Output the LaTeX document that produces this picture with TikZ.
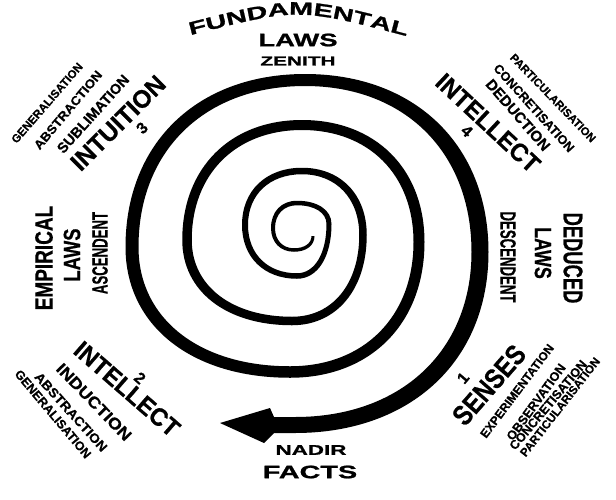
\documentclass[tikz,border=0pt]{standalone}
\usepackage{fontspec}
\setmainfont{Liberation Sans}
\newfontfamily\widefont[FakeStretch=1.6,FakeBold=1.2]{Liberation Sans}
\newfontfamily\heavyfont[FakeBold=0.6]{Liberation Sans}
\usetikzlibrary{calc,decorations.text}
\newcommand\SP[6]{\coordinate (o#1) at ({#2+(#5)*(#4)},{#3+(#6)*(#4)});\coordinate (n#1) at ({#2-(#5)*(#4)},{#3-(#6)*(#4)});}
\def\kk{0.6}
\tikzset{
 qa/.style 2 args={insert path={.. controls ($(#1)!\kk!(#1|-#2)$) and ($(#2)!\kk!(#1|-#2)$) .. (#2)}},
 qb/.style 2 args={insert path={.. controls ($(#1)!\kk!(#1-|#2)$) and ($(#2)!\kk!(#1-|#2)$) .. (#2)}},
 lab/.style={inner sep=0pt, font=\heavyfont\bfseries\fontsize{#1}{#1}\selectfont},
 wide/.style={inner sep=0pt, font=\widefont\bfseries\fontsize{#1}{#1}\selectfont},
}
\begin{document}
\begin{tikzpicture}[x=1pt,y=-1pt]
\fill[white] (0,0) rectangle (616,499);
\useasboundingbox (0,0) rectangle (616,499);
% spiral centre line points (x, y, half width, outward direction)
\SP{0}{313}{236}{1.5}{1}{0}
\SP{1}{294}{250}{1.75}{0}{1}
\SP{2}{273}{228}{2}{-1}{0}
\SP{3}{297}{203}{2.25}{0}{-1}
\SP{4}{329}{224}{2.5}{1}{0}
\SP{5}{297}{276}{2.75}{0}{1}
\SP{6}{245}{225}{3}{-1}{0}
\SP{7}{302}{171}{3.25}{0}{-1}
\SP{8}{363}{235}{3.75}{1}{0}
\SP{9}{292}{321}{4.25}{0}{1}
\SP{10}{187}{240}{4.75}{-1}{0}
\SP{11}{302}{125}{5}{0}{-1}
\SP{12}{419}{242}{5.5}{1}{0}
\SP{13}{290}{372}{5.75}{0}{1}
\SP{14}{132}{247}{6.5}{-1}{0}
\SP{15}{305}{80}{6}{0}{-1}
\SP{16}{480}{252}{8.5}{1}{0}
\SP{17}{295}{425}{8}{0}{1}
\coordinate (ab1) at (274,433);
\coordinate (ab2) at (264,443);
\coordinate (tip) at (220,423);
\coordinate (ab3) at (270,408);
\coordinate (ab4) at (274,417);
\fill[black] (n0) -- (o0) [qa={o0}{o1}] [qb={o1}{o2}] [qa={o2}{o3}] [qb={o3}{o4}]
 [qa={o4}{o5}] [qb={o5}{o6}] [qa={o6}{o7}] [qb={o7}{o8}]
 [qa={o8}{o9}] [qb={o9}{o10}] [qa={o10}{o11}] [qb={o11}{o12}]
 [qa={o12}{o13}] [qb={o13}{o14}] [qa={o14}{o15}] [qb={o15}{o16}] [qa={o16}{o17}]
 -- (ab1) -- (ab2) -- (tip) -- (ab3) -- (ab4) -- (n17)
 [qb={n17}{n16}] [qa={n16}{n15}] [qb={n15}{n14}] [qa={n14}{n13}]
 [qb={n13}{n12}] [qa={n12}{n11}] [qb={n11}{n10}] [qa={n10}{n9}]
 [qb={n9}{n8}] [qa={n8}{n7}] [qb={n7}{n6}] [qa={n6}{n5}]
 [qb={n5}{n4}] [qa={n4}{n3}] [qb={n3}{n2}] [qa={n2}{n1}] [qb={n1}{n0}] -- cycle;
% top and bottom
\path[decorate, decoration={text along path, text align=center,
  text={|\widefont\bfseries\fontsize{18}{18}\selectfont|FUNDAMENTAL}}]
  (187,36) .. controls (298,7.5) .. (410,37);
\node[wide=18, xscale=0.95] (laws0) at (298,40) {LAWS};
\node[wide=13] (zeni) at (298,61) {ZENITH};
\node[wide=14] (nadi) at (311,450) {NADIR};
\node[wide=18] (fact) at (310,472) {FACTS};
% top left
\node[lab=25, rotate=45, xscale=0.98] (intu) at (118,123) {INTUITION};
\node[lab=16, rotate=45] (n3) at (142,128) {3};
\node[lab=14.5, rotate=48] (subl) at (93,114) {SUBLIMATION};
\node[lab=12.5, rotate=50, xscale=1.08] (abs1) at (68,110) {ABSTRACTION};
\node[lab=11.5, rotate=49] (gen1) at (47,103) {GENERALISATION};
% top right
\node[lab=25, rotate=-43, xscale=0.96] (int4) at (488,123) {INTELLECT};
\node[lab=16, rotate=-43] (n4) at (467,131) {4};
\node[lab=15, rotate=-49] (dedn) at (518,115) {DEDUCTION};
\node[lab=12.7, rotate=-48] (conc1) at (534,108) {CONCRETISATION};
\node[lab=11.3, rotate=-46] (part1) at (553,98) {PARTICULARISATION};
% bottom left
\node[lab=25, rotate=-41, xscale=0.95] (int2) at (127,389) {INTELLECT};
\node[lab=16, rotate=-41] (n2) at (140,378) {2};
\node[lab=16, rotate=-46, xscale=1.13] (indu) at (94,402) {INDUCTION};
\node[lab=13, rotate=-48, xscale=1.07] (abs2) at (71,412) {ABSTRACTION};
\node[lab=12.5, rotate=-50] (gen2) at (53,414) {GENERALISATION};
% bottom right
\node[lab=28, rotate=49, xscale=0.84] (sens) at (489,385) {SENSES};
\node[lab=16, rotate=50] (n1) at (463,378) {1};
\node[lab=12, rotate=53] (expe) at (517,391) {EXPERIMENTATION};
\node[lab=12.7, rotate=54] (obse) at (536,402) {OBSERVATION};
\node[lab=12.6, rotate=50] (conc2) at (548,405) {CONCRETISATION};
\node[lab=11.7, rotate=52] (part2) at (560,407) {PARTICULARISATION};
% sides
\node[lab=25, rotate=90, xscale=0.76] (empi) at (44,258) {EMPIRICAL};
\node[lab=23.5, rotate=90, xscale=0.78] (laws1) at (72,255) {LAWS};
\node[lab=22, rotate=90, xscale=0.6] (asce) at (100,253) {ASCENDENT};
\node[lab=27, rotate=-90, xscale=0.68] (dedu) at (573,258) {DEDUCED};
\node[lab=23.5, rotate=-90, xscale=0.76] (laws2) at (543,253) {LAWS};
\node[lab=22, rotate=-90, xscale=0.6] (desc) at (508,257) {DESCENDENT};
\end{tikzpicture}
\end{document}
